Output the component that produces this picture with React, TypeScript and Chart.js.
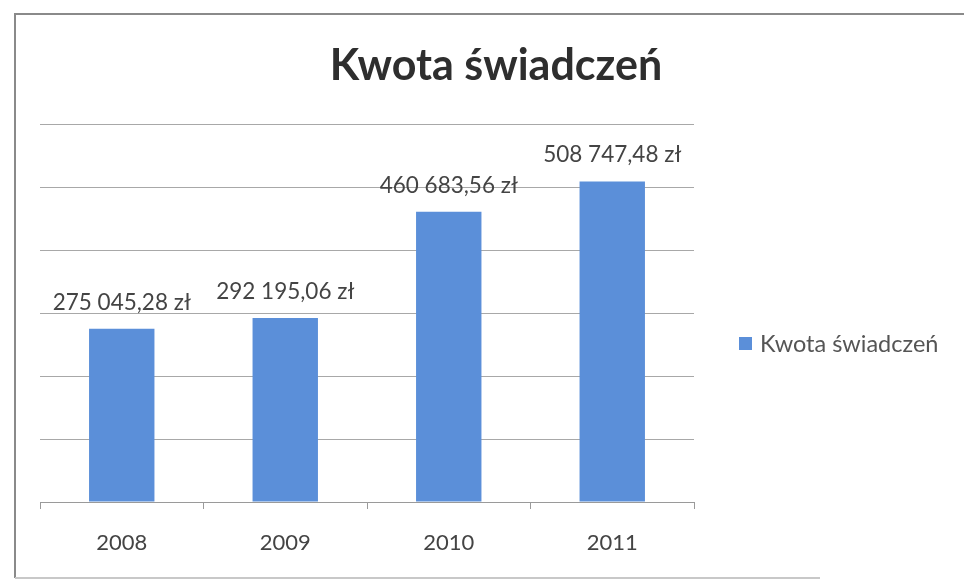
import React, { useEffect, useRef } from "react";
import { Chart, registerables } from "chart.js";

Chart.register(...registerables);

const categories = ["2008", "2009", "2010", "2011"];
const seriesName = "Kwota świadczeń";
const values = [275045.28, 292195.06, 460683.56, 508747.48];
const valueLabels = ["275 045,28 zł", "292 195,06 zł", "460 683,56 zł", "508 747,48 zł"];
const titleText = "Kwota świadczeń";

const FONT = "Lato, 'Open Sans', sans-serif";
const BAR = "#5b8fd9";

const decorPlugin = {
  id: "decor",
  afterDraw(chart: any) {
    const ctx = chart.ctx;
    ctx.save();
    // frame (top, left, bottom edges)
    ctx.strokeStyle = "#8a8a8a";
    ctx.lineWidth = 2;
    ctx.beginPath();
    ctx.moveTo(964, 14);
    ctx.lineTo(15, 14);
    ctx.lineTo(15, 578);
    ctx.stroke();
    ctx.strokeStyle = "#c8c8c8";
    ctx.beginPath();
    ctx.moveTo(15, 578);
    ctx.lineTo(820, 578);
    ctx.stroke();
    // title
    ctx.fillStyle = "#2e2e2e";
    ctx.font = `bold 43px ${FONT}`;
    ctx.textAlign = "center";
    ctx.textBaseline = "alphabetic";
    ctx.fillText(titleText, 496, 80);
    // data labels
    const meta = chart.getDatasetMeta(0);
    ctx.font = `22.5px ${FONT}`;
    ctx.fillStyle = "#444444";
    meta.data.forEach((bar: any, i: number) => {
      ctx.fillText(valueLabels[i], bar.x, bar.y - 19);
    });
    // legend
    ctx.fillStyle = BAR;
    ctx.fillRect(739, 337, 13, 13);
    ctx.fillStyle = "#555555";
    ctx.textAlign = "left";
    ctx.font = `23.5px ${FONT}`;
    ctx.fillText(seriesName, 760, 352);
    ctx.restore();
  },
};

export default function App() {
  const ref = useRef<HTMLCanvasElement>(null);
  useEffect(() => {
    document.body.style.margin = "0";
    const chart = new Chart(ref.current!, {
      type: "bar",
      data: {
        labels: categories,
        datasets: [
          {
            label: seriesName,
            data: values,
            backgroundColor: BAR,
            barPercentage: 0.4,
            categoryPercentage: 1.0,
          },
        ],
      },
      options: {
        animation: false,
        responsive: false,
        layout: { padding: { left: 40, right: 270, top: 124, bottom: 0 } },
        plugins: { legend: { display: false }, title: { display: false }, tooltip: { enabled: false } },
        scales: {
          x: {
            grid: { display: true, drawOnChartArea: false, tickLength: 7, color: "#9a9a9a", offset: true },
            border: { display: true, color: "#9a9a9a" },
            ticks: { color: "#444444", font: { family: FONT, size: 22 }, padding: 21 },
            afterFit: (s: any) => { s.height = 80; },
          },
          y: {
            min: 0,
            max: 600000,
            ticks: { display: false, stepSize: 100000 },
            grid: { color: "#a8a8a8", drawTicks: false },
            border: { display: false },
            afterFit: (s: any) => { s.width = 0; },
          },
        },
      },
      plugins: [decorPlugin],
    });
    return () => chart.destroy();
  }, []);
  return (
    <div style={{ width: 964, height: 582, background: "#fff" }}>
      <canvas ref={ref} width={964} height={582} style={{ display: "block" }} />
    </div>
  );
}
